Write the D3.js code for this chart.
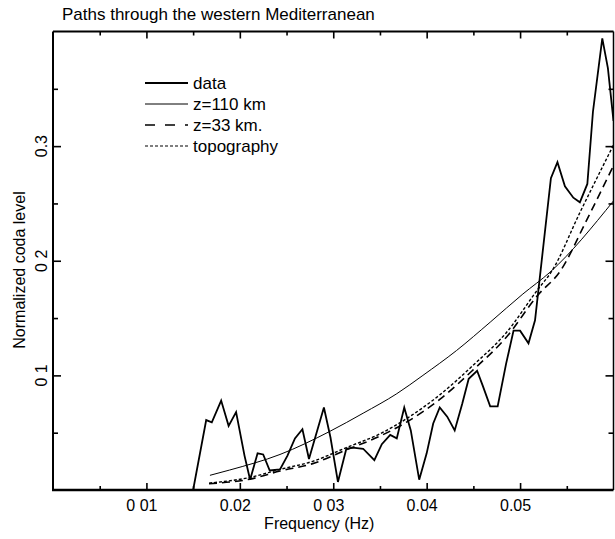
<!DOCTYPE html>
<html><head><meta charset="utf-8">
<script src="https://cdn.jsdelivr.net/npm/d3@7"></script>
<style>
body{margin:0;background:#fff}
svg text{font-family:"Liberation Sans",Arial,Helvetica,sans-serif;fill:#000}
</style>
</head><body><svg id="c" width="615" height="539"></svg>
<script>
// ---- data ----
const freqData = [0.0150,0.0164,0.0170,0.0180,0.0188,0.0196,0.0205,0.0211,0.0219,0.0225,0.0232,0.0243,0.0251,0.0259,0.0267,0.0274,0.0290,0.0297,0.0305,0.0314,0.0321,0.0332,0.0344,0.0352,0.0361,0.0368,0.0376,0.0383,0.0392,0.0400,0.0407,0.0414,0.0422,0.0430,0.0438,0.0445,0.0454,0.0460,0.0468,0.0476,0.0485,0.0493,0.0500,0.0509,0.0516,0.0533,0.0540,0.0548,0.0557,0.0564,0.0572,0.0578,0.0588,0.0594,0.0600];
const levelData = [0,0.061,0.059,0.078,0.056,0.068,0.030,0.009,0.032,0.031,0.017,0.018,0.030,0.045,0.053,0.027,0.072,0.046,0.007,0.036,0.037,0.036,0.026,0.040,0.048,0.045,0.072,0.052,0.009,0.032,0.058,0.072,0.064,0.052,0.075,0.097,0.104,0.091,0.073,0.073,0.110,0.139,0.139,0.128,0.148,0.272,0.286,0.265,0.255,0.251,0.267,0.330,0.394,0.368,0.322];

const freqZ110 = [0.0168,0.0189,0.0243,0.0296,0.0332,0.0368,0.0396,0.0432,0.0468,0.0503,0.0532,0.0600];
const levelZ110 = [0.0128,0.0174,0.031,0.051,0.067,0.084,0.100,0.1217,0.1464,0.171,0.190,0.2522];

const freqZ33 = [0.0167,0.0211,0.0243,0.0278,0.0314,0.0350,0.0378,0.0414,0.0450,0.0485,0.0519,0.0543,0.0571,0.0600];
const levelZ33 = [0.0055,0.0095,0.0165,0.023,0.035,0.047,0.059,0.079,0.105,0.133,0.170,0.191,0.235,0.283];

const freqTopo = [0.0167,0.0211,0.0243,0.0278,0.0314,0.0350,0.0378,0.0414,0.0450,0.0485,0.0519,0.0534,0.0564,0.0600];
const levelTopo = [0.0060,0.0110,0.0180,0.025,0.037,0.049,0.062,0.083,0.109,0.137,0.175,0.191,0.242,0.301];

const xTickValues = [0.01,0.02,0.03,0.04,0.05];
const xTickLabels = ["0 01","0.02","0 03","0.04","0.05"];
const xMinorTicks = [0.005,0.015,0.025,0.035,0.045,0.055];
const yTickValues = [0.1,0.2,0.3];
const yTickLabels = ["0 1","0 2","0.3"];
const yMinorTicks = [0.05,0.15,0.25,0.35];
const legendLabels = ["data","z=110 km","z=33 km.","topography"];
const titleText = "Paths through the western Mediterranean";
const xTitle = "Frequency (Hz)";
const yTitle = "Normalized coda level";

// ---- layout ----
const L = 53, R = 613.5, T = 31.5, B = 490;
const svg = d3.select("#c");
const x = d3.scaleLinear().domain([0, 0.06]).range([L, R]);
const y = d3.scaleLinear().domain([0, 0.4]).range([B, T]);

svg.append("defs").append("clipPath").attr("id","clip")
  .append("rect").attr("x",L).attr("y",T).attr("width",R-L).attr("height",B-T);

// title
svg.append("text").attr("x",62).attr("y",20).style("font-size","17px").text(titleText);

// axes
function styleAxis(g){
  g.select(".domain").remove();
  g.selectAll(".tick line").attr("stroke","#000").attr("stroke-width",1.6);
}
const lblMap = new Map(xTickValues.map((v,i)=>[v,xTickLabels[i]]));
const gx = svg.append("g").attr("transform",`translate(0,${B})`)
  .call(d3.axisBottom(x).tickValues(xTickValues).tickSizeInner(-7).tickSizeOuter(0).tickPadding(9.5)
    .tickFormat(d=>lblMap.get(d)));
styleAxis(gx);
gx.selectAll("text").style("font-size","16px").attr("dx",-5);
const gxm = svg.append("g").attr("transform",`translate(0,${B})`)
  .call(d3.axisBottom(x).tickValues(xMinorTicks).tickSizeInner(-4).tickSizeOuter(0).tickFormat(""));
styleAxis(gxm);

const gxt = svg.append("g").attr("transform",`translate(0,${T})`)
  .call(d3.axisTop(x).tickValues(xTickValues).tickSizeInner(-7).tickSizeOuter(0).tickFormat(""));
styleAxis(gxt);
const gxtm = svg.append("g").attr("transform",`translate(0,${T})`)
  .call(d3.axisTop(x).tickValues(xMinorTicks).tickSizeInner(-4).tickSizeOuter(0).tickFormat(""));
styleAxis(gxtm);

const gy = svg.append("g").attr("transform",`translate(${L},0)`)
  .call(d3.axisLeft(y).tickValues(yTickValues).tickSizeInner(-8).tickSizeOuter(0).tickFormat(""));
styleAxis(gy);
const gym = svg.append("g").attr("transform",`translate(${L},0)`)
  .call(d3.axisLeft(y).tickValues(yMinorTicks).tickSizeInner(-5).tickSizeOuter(0).tickFormat(""));
styleAxis(gym);
const gyr = svg.append("g").attr("transform",`translate(${R},0)`)
  .call(d3.axisRight(y).tickValues(yTickValues).tickSizeInner(-8).tickSizeOuter(0).tickFormat(""));
styleAxis(gyr);
const gyrm = svg.append("g").attr("transform",`translate(${R},0)`)
  .call(d3.axisRight(y).tickValues(yMinorTicks).tickSizeInner(-5).tickSizeOuter(0).tickFormat(""));
styleAxis(gyrm);

// y tick labels (rotated)
svg.append("g").selectAll("text").data(yTickValues).join("text")
  .attr("transform",(d)=>`translate(47,${y(d)}) rotate(-90)`)
  .attr("text-anchor","middle").style("font-size","16px")
  .text((d,i)=>yTickLabels[i]);

// frame
svg.append("line").attr("x1",L).attr("x2",R).attr("y1",T).attr("y2",T).attr("stroke","#000").attr("stroke-width",1.8);
svg.append("line").attr("x1",R).attr("x2",R).attr("y1",T).attr("y2",B).attr("stroke","#000").attr("stroke-width",1.5);
svg.append("line").attr("x1",L).attr("x2",L).attr("y1",T).attr("y2",B+1).attr("stroke","#000").attr("stroke-width",2);
svg.append("line").attr("x1",L-1).attr("x2",R).attr("y1",B).attr("y2",B).attr("stroke","#000").attr("stroke-width",2.4);

// axis titles
svg.append("text").attr("x",x(0.0285)).attr("y",529).attr("text-anchor","middle").style("font-size","16px").text(xTitle);
svg.append("text").attr("transform",`translate(25,270) rotate(-90)`).attr("text-anchor","middle").style("font-size","16px").text(yTitle);

// lines
const plot = svg.append("g").attr("clip-path","url(#clip)");
const lineLin = d3.line().x(d=>x(d[0])).y(d=>y(d[1]));
const lineSmooth = d3.line().x(d=>x(d[0])).y(d=>y(d[1])).curve(d3.curveMonotoneX);
const zip = (a,b)=>a.map((v,i)=>[v,b[i]]);

plot.append("path").datum(zip(freqZ110,levelZ110)).attr("d",lineSmooth)
  .attr("fill","none").attr("stroke","#000").attr("stroke-width",1);
plot.append("path").datum(zip(freqZ33,levelZ33)).attr("d",lineSmooth)
  .attr("fill","none").attr("stroke","#000").attr("stroke-width",1.6).attr("stroke-dasharray","8,5");
plot.append("path").datum(zip(freqTopo,levelTopo)).attr("d",lineSmooth)
  .attr("fill","none").attr("stroke","#000").attr("stroke-width",1.4).attr("stroke-dasharray","3,2");
plot.append("path").datum(zip(freqData,levelData)).attr("d",lineLin)
  .attr("fill","none").attr("stroke","#000").attr("stroke-width",1.8).attr("stroke-linejoin","miter");

// legend
const legRows = [83,104,125,146];
const legStyles = [
  {w:1.8,dash:null},{w:1,dash:null},{w:1.6,dash:"10,10"},{w:1.2,dash:"3,2"}
];
const leg = svg.append("g");
legendLabels.forEach((lab,i)=>{
  const ln = leg.append("line").attr("x1",145).attr("x2",188).attr("y1",legRows[i]).attr("y2",legRows[i])
    .attr("stroke","#000").attr("stroke-width",legStyles[i].w);
  if(legStyles[i].dash) ln.attr("stroke-dasharray",legStyles[i].dash);
  leg.append("text").attr("x",193).attr("y",legRows[i]).attr("dy","0.35em").style("font-size","17px").text(lab);
});
</script>
</body></html>
